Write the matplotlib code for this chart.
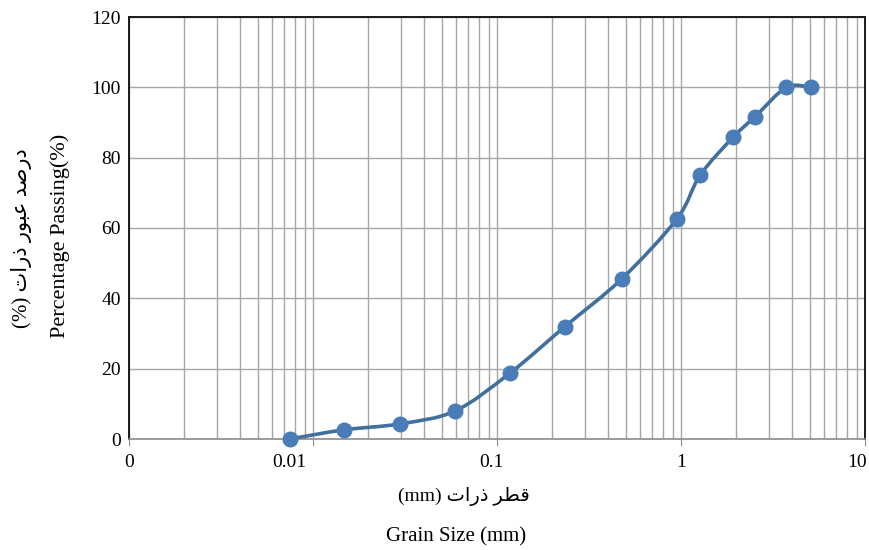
import numpy as np
import matplotlib
matplotlib.use("Agg")
import matplotlib.pyplot as plt
import matplotlib.transforms as mtransforms
from matplotlib.path import Path
from matplotlib.patches import PathPatch
from matplotlib.ticker import FixedLocator, LogLocator, NullFormatter

# Grain size distribution
grain_size_mm = [0.0075, 0.0147, 0.0297, 0.0593, 0.118, 0.233, 0.478,
                 0.953, 1.27, 1.92, 2.53, 3.74, 5.06]
percent_passing = [0.0, 2.6, 4.3, 8.0, 18.8, 31.9, 45.6,
                   62.7, 75.0, 85.8, 91.7, 100.0, 100.0]

x_ticks = [0.001, 0.01, 0.1, 1, 10]
x_tick_labels = ["0", "0.01", "0.1", "1", "10"]
y_ticks = [0, 20, 40, 60, 80, 100, 120]

# Persian labels (contextual glyph forms, laid out right-to-left)
DUAL = {'ب': 0xFE8F, 'ت': 0xFE95, 'ص': 0xFEB9, 'ط': 0xFEC1,
        'ع': 0xFEC9, 'ق': 0xFED5}
RIGHT = {'ا': 0xFE8D, 'د': 0xFEA9, 'ذ': 0xFEAB, 'ر': 0xFEAD, 'و': 0xFEED}


def shape_rtl(text):
    out = []
    n = len(text)
    for i, ch in enumerate(text):
        prev = text[i - 1] if i > 0 else None
        nxt = text[i + 1] if i < n - 1 else None
        join_prev = prev in DUAL
        if ch in DUAL:
            join_next = nxt is not None and (nxt in DUAL or nxt in RIGHT)
            base = DUAL[ch]
            if join_prev and join_next:
                cp = base + 3
            elif join_prev:
                cp = base + 1
            elif join_next:
                cp = base + 2
            else:
                cp = base
            out.append(chr(cp))
        elif ch in RIGHT:
            out.append(chr(RIGHT[ch] + (1 if join_prev else 0)))
        else:
            out.append(ch)
    return "".join(out)[::-1]


xlabel_fa = "(mm) " + shape_rtl("قطر ذرات")
xlabel_en = "Grain Size (mm)"
ylabel_fa = "(%) " + shape_rtl("درصد عبور ذرات")
ylabel_en = "Percentage Passing(%)"

FONT = ["Liberation Serif", "DejaVu Sans"]
plt.rcParams["font.family"] = FONT

W, H = 870, 550
fig = plt.figure(figsize=(W / 100, H / 100), dpi=100)
ax = fig.add_axes([129 / W, 1 - 439 / H, (865 - 129) / W, (439 - 17) / H])

ax.set_xscale("log")
ax.set_xlim(0.001, 10)
ax.set_ylim(0, 120)

# gridlines
ax.xaxis.set_major_locator(FixedLocator(x_ticks))
ax.set_xticklabels(x_tick_labels)
ax.xaxis.set_minor_locator(LogLocator(base=10, subs=np.arange(2, 10)))
ax.xaxis.set_minor_formatter(NullFormatter())
ax.set_yticks(y_ticks)
ax.grid(True, which="both", axis="x", color="#a6a6a6", linewidth=1.0)
ax.grid(True, which="major", axis="y", color="#a6a6a6", linewidth=1.0)
ax.set_axisbelow(True)

for side in ["left", "top", "right"]:
    ax.spines[side].set_color("#1a1a1a")
    ax.spines[side].set_linewidth(1.4)
ax.spines["bottom"].set_color("#8c8c8c")
ax.spines["bottom"].set_linewidth(1.2)

ax.tick_params(axis="x", which="major", direction="out", length=5,
               color="#8c8c8c", labelsize=14, pad=6)
ax.tick_params(axis="x", which="minor", length=0)
ax.tick_params(axis="y", length=0, labelsize=14, pad=6)

# small horizontal nudges of the category labels (pixels)
label_shift_px = [0, -24, -6, 0, -8]
for lbl, dx in zip(ax.get_xticklabels(), label_shift_px):
    lbl.set_transform(lbl.get_transform() +
                      mtransforms.ScaledTranslation(dx / 100, 0,
                                                    fig.dpi_scale_trans))

# smoothed curve through the points (Bezier segments in log-x space)
lx = np.log10(grain_size_mm)
yy = np.array(percent_passing)
pts = np.column_stack([lx, yy])
verts = [tuple(pts[0])]
codes = [Path.MOVETO]
t = 1 / 6
for i in range(len(pts) - 1):
    p0 = pts[i - 1] if i > 0 else pts[i]
    p1 = pts[i]
    p2 = pts[i + 1]
    p3 = pts[i + 2] if i + 2 < len(pts) else pts[i + 1]
    c1 = p1 + (p2 - p0) * t
    c2 = p2 - (p3 - p1) * t
    verts += [tuple(c1), tuple(c2), tuple(p2)]
    codes += [Path.CURVE4] * 3
verts = [(10 ** vx, vy) for vx, vy in verts]
curve = PathPatch(Path(verts, codes), facecolor="none", edgecolor="#41709f",
                  linewidth=2.6, zorder=3, capstyle="round", joinstyle="round")
ax.add_patch(curve)

ax.plot(grain_size_mm, percent_passing, linestyle="none", marker="o",
        markersize=10.5, color="#4a7db7", zorder=4, clip_on=False)

# axis titles
fig.text(464 / W, 1 - 497 / H, xlabel_fa, ha="center", va="center",
         fontsize=14, family=FONT)
fig.text(456 / W, 1 - 537 / H, xlabel_en, ha="center", va="center",
         fontsize=15, family=FONT)
fig.text(22 / W, 1 - 238 / H, ylabel_fa, ha="center", va="center",
         rotation=90, fontsize=15, family=FONT)
fig.text(60 / W, 1 - 236 / H, ylabel_en, ha="center", va="center",
         rotation=90, fontsize=16, family=FONT)

fig.savefig("out.png", dpi=100)
